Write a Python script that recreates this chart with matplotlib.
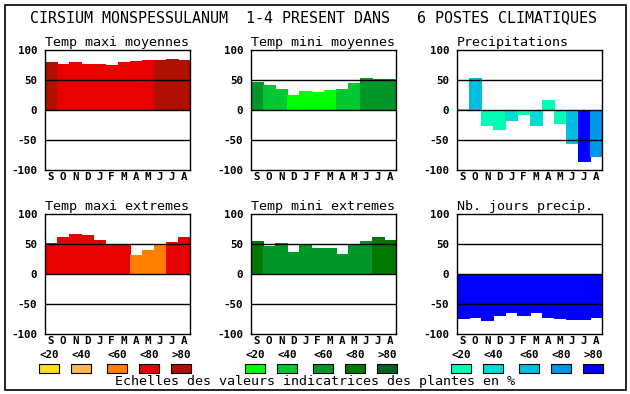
import numpy as np
import matplotlib
matplotlib.use("Agg")
import matplotlib.pyplot as plt
from matplotlib.patches import Rectangle

plt.rcParams['axes.unicode_minus'] = False
plt.rcParams['font.family'] = 'DejaVu Sans Mono'

months = ["S", "O", "N", "D", "J", "F", "M", "A", "M", "J", "J", "A"]
scale_labels = ["<20", "<40", "<60", "<80", ">80"]

reds = ["#f8e020", "#ffb850", "#ff8000", "#e80000", "#b01000"]
greens = ["#00ff00", "#00c832", "#009628", "#007800", "#006420"]
blues = ["#00ffb4", "#00dcd2", "#00bee0", "#0096e6", "#0000ff"]

tmax_moy = [80.5, 76.7, 80.5, 76.7, 76.7, 75, 80.5, 82, 84, 84, 85.5, 84]
tmax_moy_cls = [4, 3, 3, 3, 3, 3, 3, 3, 3, 4, 4, 4]
tmin_moy = [46.7, 41.7, 35, 25, 31.7, 30, 33, 35, 45, 53, 51.7, 51.7]
tmin_moy_cls = [2, 1, 1, 0, 0, 0, 0, 1, 1, 2, 2, 2]
precip = [2.2, 53.3, -25, -31.7, -16.7, -6.7, -25, 16.7, -21.7, -55, -85, -76.7]
precip_cls = [0, 2, 0, 0, 1, 0, 1, 0, 0, 2, 4, 3]
tmax_ext = [51.7, 61.7, 66.7, 65, 56.7, 50, 50, 31.7, 40, 48.5, 53.3, 61.7]
tmax_ext_cls = [3, 3, 3, 3, 3, 3, 3, 2, 2, 2, 3, 3]
tmin_ext = [55, 46.7, 51.7, 36.7, 48.5, 43.3, 43.3, 33.3, 48.5, 55, 61.7, 56.7]
tmin_ext_cls = [3, 2, 2, 2, 2, 2, 2, 2, 2, 2, 3, 3]
jours = [-73, -71.7, -76, -68, -63, -68, -63, -71.7, -73, -75, -75, -71.7]
jours_cls = [4] * 12

panels = [
    ("Temp maxi moyennes", tmax_moy, tmax_moy_cls, reds, 0, 0),
    ("Temp mini moyennes", tmin_moy, tmin_moy_cls, greens, 1, 0),
    ("Precipitations", precip, precip_cls, blues, 2, 0),
    ("Temp maxi extremes", tmax_ext, tmax_ext_cls, reds, 0, 1),
    ("Temp mini extremes", tmin_ext, tmin_ext_cls, greens, 1, 1),
    ("Nb. jours precip.", jours, jours_cls, blues, 2, 1),
]

W, H = 630, 394
fig = plt.figure(figsize=(W / 100, H / 100), dpi=100)

col_x = [45, 251, 457]
row_y = [50, 214]
aw, ah = 145, 120

for title, vals, cls, pal, c, r in panels:
    x0, y0 = col_x[c], row_y[r]
    ax = fig.add_axes([x0 / W, 1 - (y0 + ah) / H, aw / W, ah / H])
    xs = np.arange(len(months))
    cols = [pal[k] for k in cls]
    ax.bar(xs, vals, width=1.0, color=cols, edgecolor=cols, linewidth=0.6,
           antialiased=False, zorder=1)
    for yv in (50, 0, -50):
        ax.axhline(yv, color="black", lw=1.0, zorder=2)
    ax.set_xlim(-0.5, 11.5)
    ax.set_ylim(-100, 100)
    ax.set_yticks([100, 50, 0, -50, -100])
    ax.set_yticklabels(["100", "50", "0", "-50", "-100"], fontsize=7.8,
                       fontweight="bold")
    ax.set_xticks(xs)
    ax.set_xticklabels(months, fontsize=7.8, fontweight="bold")
    ax.tick_params(length=0, axis="y", pad=5.5)
    ax.tick_params(length=0, axis="x", pad=1.5)
    for s in ax.spines.values():
        s.set_linewidth(1.0)
        s.set_zorder(3)
    ax.set_title(title, loc="left", fontsize=9.6, pad=3)

# overlay in pixel coordinates for frame, header and scale legend
ov = fig.add_axes([0, 0, 1, 1])
ov.set_xlim(0, W)
ov.set_ylim(H, 0)
ov.axis("off")
ov.add_patch(Rectangle((5, 5), 621, 385, fill=False, lw=1.2, ec="black"))
ov.text(314, 18, "CIRSIUM MONSPESSULANUM  1-4 PRESENT DANS   6 POSTES CLIMATIQUES",
        ha="center", va="center", fontsize=10.8)

sw_off = [-6, 26, 62, 94, 126]
for c, pal in enumerate([reds, greens, blues]):
    for k in range(5):
        sx = col_x[c] + sw_off[k]
        ov.text(sx + 10, 355, scale_labels[k], ha="center", va="center",
                fontsize=7.8, fontweight="bold")
        ov.add_patch(Rectangle((sx, 364), 20, 9, fc=pal[k], ec="black", lw=0.8))

ov.text(315, 382, "Echelles des valeurs indicatrices des plantes en %",
        ha="center", va="center", fontsize=9.6)

fig.savefig("out.png", dpi=100)
